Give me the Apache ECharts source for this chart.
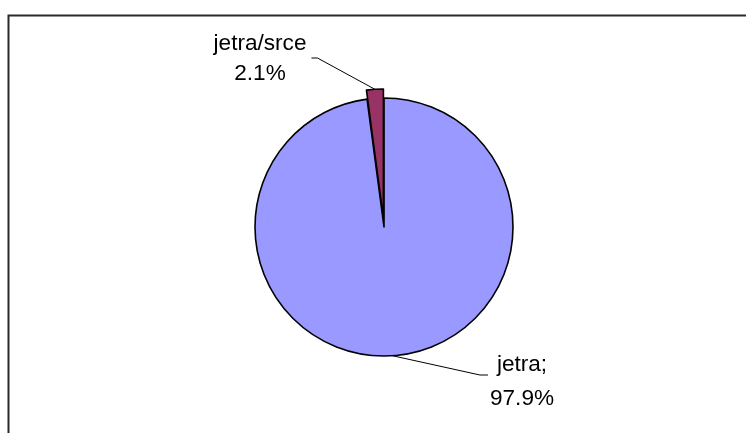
<!DOCTYPE html>
<html>
<head>
<meta charset="utf-8">
<script src="https://cdn.jsdelivr.net/npm/echarts@6/dist/echarts.min.js"></script>
<style>
  html, body { margin: 0; padding: 0; background: #fff; }
  #chart { width: 746px; height: 433px; }
</style>
</head>
<body>
<div id="chart"></div>
<script>
// Share of each category
const categories = ['jetra', 'jetra/srce'];
const shares = [97.9, 2.1];
const sliceColors = ['#9999FF', '#993366'];
// Which slice is pulled out of the pie
const pulledOut = [false, true];

// Label anchor (center of the text block), the side of the text the guide line meets,
// and where along the text block the guide line arrives
const labelSpots = [
  { x: 522, y: 382, side: 'left', lineHeight: 34, sep: ';\n', lineY: -7 },
  { x: 260, y: 59, side: 'right', lineHeight: 30, sep: '\n', lineY: -1 }
];

const PIE_CENTER = [384, 227];
const PIE_RADIUS = 129;
const PULL_DISTANCE = 9;
const START_ANGLE = 90;

const chart = echarts.init(document.getElementById('chart'), null, { renderer: 'canvas' });

const total = shares.reduce(function (a, b) { return a + b; }, 0);

// Mid-angle (clockwise from 12 o'clock) of a slice, used to push it outward
function midAngle(i) {
  let before = 0;
  for (let k = 0; k < i; k++) before += shares[k];
  return (before + shares[i] / 2) / total * 2 * Math.PI;
}

const hidden = {
  itemStyle: { color: 'rgba(0,0,0,0)', borderWidth: 0 },
  label: { show: false },
  labelLine: { show: false }
};

function buildData(layerPulled) {
  return categories.map(function (name, i) {
    const item = { name: name, value: shares[i] };
    if (pulledOut[i] !== layerPulled) {
      return Object.assign(item, hidden);
    }
    item.itemStyle = { color: sliceColors[i] };
    item.label = {
      formatter: '{b}' + labelSpots[i].sep + '{d}%',
      lineHeight: labelSpots[i].lineHeight
    };
    return item;
  });
}

function placeLabel(p) {
  const spot = labelSpots[p.dataIndex];
  const w = p.labelRect.width;
  const start = p.labelLinePoints ? p.labelLinePoints[0] : null;
  const out = { x: spot.x, y: spot.y, align: 'center', verticalAlign: 'middle' };
  if (start) {
    let endX, kneeX;
    if (spot.side === 'left') {
      endX = spot.x - w / 2 - 2;
      kneeX = endX - 8;
    } else {
      endX = spot.x + w / 2 + 5;
      kneeX = endX + 6;
    }
    const midY = spot.y + spot.lineY;
    out.labelLinePoints = [start, [kneeX, midY], [endX, midY]];
  }
  return out;
}

function pieLayer(center, layerPulled) {
  return {
    type: 'pie',
    center: center,
    radius: [0, PIE_RADIUS],
    startAngle: START_ANGLE,
    clockwise: true,
    percentPrecision: 1,
    avoidLabelOverlap: false,
    silent: true,
    itemStyle: { borderColor: '#000', borderWidth: 1.6 },
    label: {
      show: true,
      position: 'outside',
      color: '#000',
      fontFamily: 'Liberation Sans, Arial, sans-serif',
      fontSize: 22.6
    },
    labelLine: {
      show: true,
      length: 10,
      length2: 8,
      smooth: false,
      lineStyle: { color: '#000', width: 1 }
    },
    labelLayout: placeLabel,
    emphasis: { disabled: true },
    data: buildData(layerPulled)
  };
}

// The pulled-out slice sits on a copy of the pie shifted along its mid-angle
const pullIndex = pulledOut.indexOf(true);
const a = midAngle(pullIndex);
const pulledCenter = [
  PIE_CENTER[0] + PULL_DISTANCE * Math.sin(a),
  PIE_CENTER[1] - PULL_DISTANCE * Math.cos(a)
];

chart.setOption({
  animation: false,
  backgroundColor: '#fff',
  graphic: [{
    type: 'rect',
    left: 6,
    top: 13,
    shape: { width: 770, height: 450 },
    style: { fill: 'none', stroke: '#2a2a2a', lineWidth: 2 },
    silent: true,
    z: -1
  }],
  series: [
    pieLayer(PIE_CENTER, false),
    pieLayer(pulledCenter, true)
  ]
});
</script>
</body>
</html>
